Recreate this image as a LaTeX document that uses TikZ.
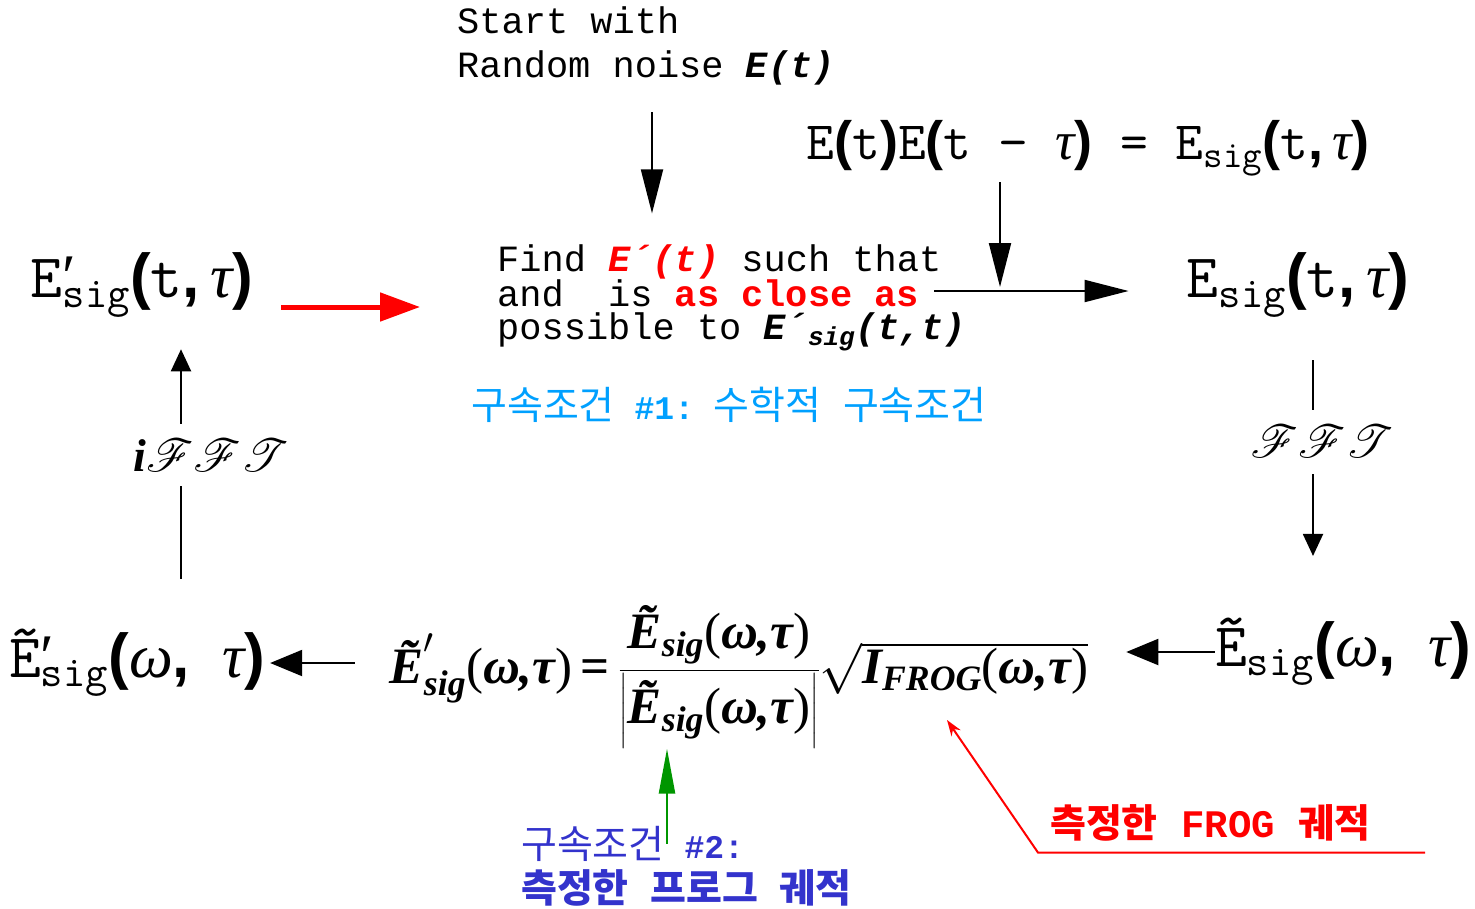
\RequirePackage{fix-cm}
\documentclass[tikz,border=0pt]{standalone}
\usepackage{amsmath}
\usepackage{mathrsfs}
\usepackage{fontspec}
\setmainfont{Liberation Serif}
\setmonofont{Liberation Mono}
\newfontfamily\krfont{Noto Sans CJK KR}
\newfontfamily\heavyfont{Liberation Sans}
\newfontfamily\lmmono{Latin Modern Mono}
\usetikzlibrary{arrows.meta,positioning}

\definecolor{skyblue}{RGB}{0,160,255}
\definecolor{krblue}{RGB}{51,51,204}
\definecolor{frogred}{RGB}{255,0,0}
\definecolor{arrgreen}{RGB}{0,150,0}

% heavy parentheses and comma of the field labels
\newcommand{\hv}[1]{{\heavyfont\bfseries #1}}
\newcommand{\tauit}{{\rmfamily\itshape τ}}
\newcommand{\omegait}{{\rmfamily\itshape ω}}
\newcommand{\bi}{\rmfamily\bfseries\itshape}
\newcommand{\upr}{\rmfamily\mdseries\upshape}
\newcommand{\wtarg}{\text{\upr(\bi ω,τ\upr)}}
\newcommand{\scr}[1]{\scalebox{1.85}{\fontsize{24.88}{30}\selectfont$\mathscr{#1}$}}
\newcommand{\msp}{{\ttfamily\fontsize{36}{44}\selectfont\ }}

\begin{document}
\begin{tikzpicture}[x=1pt, y=-1pt,
  mono/.style={font=\fontsize{37}{33}\selectfont\ttfamily, inner sep=0pt, align=left},
  field/.style={font=\fontsize{62}{66}\selectfont\lmmono, inner sep=0pt},
  hangul/.style={font=\fontsize{39}{44}\selectfont\krfont, inner sep=0pt, align=left},
  flow/.style={-{Triangle[length=44pt,width=22pt]}, line width=2pt},
  fftarr/.style={-{Triangle[length=22pt,width=20pt]}, line width=2pt},
  sidearr/.style={-{Triangle[length=32pt,width=26pt]}, line width=2pt},
  redflow/.style={-{Triangle[length=40pt,width=28pt]}, line width=5pt, frogred},
  greenflow/.style={-{Triangle[length=45pt,width=16pt]}, line width=2.5pt, arrgreen},
  pointer/.style={-{Stealth[length=16pt,width=11pt]}, line width=2pt, frogred}]
\useasboundingbox (0,0) rectangle (1475,908);

% columns of the vertical connectors
\coordinate (noisecol) at (652,0);
\coordinate (join) at (1000,291);
\coordinate (fftcol) at (1313,0);
\coordinate (ifftcol) at (181,0);
\coordinate (greencol) at (667,0);
\coordinate (frogtip) at (947,720);

\node[mono, font=\fontsize{37}{44}\selectfont\ttfamily, anchor=west] (start) at (457,46)
  {Start with\\Random noise {\bfseries\itshape E(t)}};
\node[mono, anchor=west] (find) at (497,298)
  {Find {\color{frogred}\bfseries\itshape E´(t)} such that\\
   and\ \ is {\color{frogred}\bfseries as close as}\\
   possible to {\bfseries\itshape E´\textsubscript{sig}(t,t)}};
\node[font=\fontsize{54}{60}\selectfont\lmmono, inner sep=0pt] (autocorr) at (1088,148)
  {E\hv{(}t\hv{)}E\hv{(}t − \tauit\hv{)} = E\textsubscript{sig}\hv{(}t\hv{,}\,\tauit\hv{)}};
\node[field] (esig) at (1298,285) {E\textsubscript{sig}\hv{(}t\hv{,}\,\tauit\hv{)}};
\node[field] (esigp) at (142,285) {E\rlap{\rmfamily ′}\textsubscript{sig}\hv{(}t\hv{,}\,\tauit\hv{)}};
\node[hangul, text=skyblue] (cond1) at (729,405)
  {구속조건{\ttfamily\bfseries\fontsize{33}{44}\selectfont\ \#1:\ }수학적\msp 구속조건};
\node[inner sep=0pt] (fft) at (1322,441) {\scr{FFT}};
\node[inner sep=0pt] (ifft) at (211,455) {\scalebox{1.85}{\fontsize{24.88}{30}\selectfont\bi i}\scr{FFT}};
\node[field] (wesigp) at (137,663) {\~{E}\rlap{\rmfamily ′}\textsubscript{sig}\hv{(}\omegait\hv{,} \tauit\hv{)}};
\node[field] (wesig) at (1343,652) {\~{E}\textsubscript{sig}\hv{(}\omegait\hv{,} \tauit\hv{)}};
\node[inner sep=0pt, font=\fontsize{51}{58}\selectfont] (update) at (739,677)
  {$\text{\bi\~{E}}'_{\text{\bi sig}}\wtarg\text{\upr\bfseries\,=\,}%
   \dfrac{\text{\bi\~{E}}_{\text{\bi sig}}\wtarg}{\left|\vrule height 42pt depth 20pt width 0pt\text{\bi\~{E}}_{\text{\bi sig}}\wtarg\right|}%
   \sqrt{\text{\bi I}_{\text{\bi FROG}}\wtarg}$};
\node[hangul, text=krblue, anchor=west] (cond2) at (521,866)
  {구속조건{\ttfamily\bfseries\fontsize{33}{44}\selectfont\ \#2:}\\{\bfseries 측정한\msp 프로그\msp 궤적}};
\node[hangul, text=frogred, anchor=west] (measured) at (1050,823)
  {{\bfseries 측정한}{\ttfamily\bfseries\ FROG\ }{\bfseries 궤적}};

% main loop
\draw[flow, shorten <=27pt, shorten >=31pt] (start.south -| noisecol) -- (find.north -| noisecol);
\draw[flow, shorten <=6pt, shorten >=4pt] (autocorr.south -| join) -- (join);
\draw[flow, shorten <=-32pt, shorten >=58pt] (find.east |- join) -- (esig.west |- join);
\draw[line width=2pt, shorten <=43pt, shorten >=15pt] (esig.south -| fftcol) -- (fft.north -| fftcol);
\draw[fftarr, shorten <=17pt, shorten >=62pt] (fft.south -| fftcol) -- (wesig.north -| fftcol);
\draw[sidearr, shorten >=38pt] (wesig.west) -- (wesig.west -| update.east);
\draw[sidearr, shorten <=35pt, shorten >=5pt] (wesigp.east -| update.west) -- (wesigp.east);
\draw[line width=2pt, shorten <=50pt, shorten >=15pt] (wesigp.north -| ifftcol) -- (ifft.south -| ifftcol);
\draw[fftarr, shorten <=15pt, shorten >=32pt] (ifft.north -| ifftcol) -- (esigp.south -| ifftcol);
\draw[redflow, shorten <=28pt, shorten >=77pt] ([yshift=-22pt]esigp.east) -- ([yshift=-22pt]esigp.east -| find.west);

% constraints
\draw[greenflow, shorten <=-18pt, shorten >=0pt] (cond2.north -| greencol) -- (update.south -| greencol);
\draw[pointer] ([xshift=55pt,yshift=-11pt]measured.south east) -- ([xshift=-12pt,yshift=-11pt]measured.south west) -- (frogtip);
\end{tikzpicture}
\end{document}
